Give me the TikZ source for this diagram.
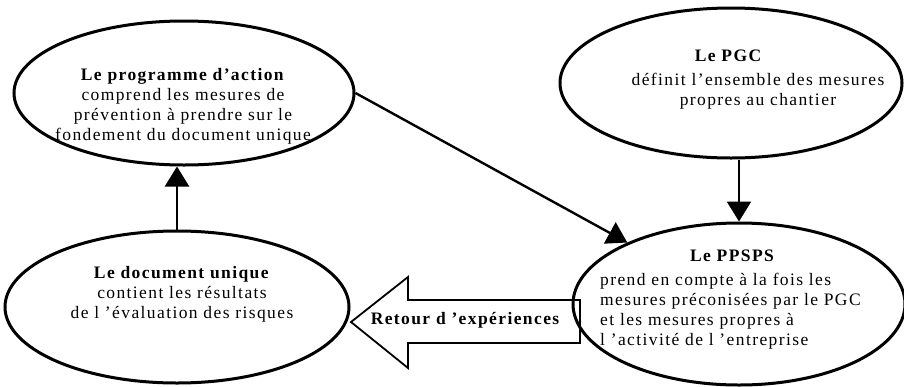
\documentclass[tikz,border=0pt]{standalone}
\usepackage{fontspec}
\setmainfont{Liberation Serif}[LetterSpace=8]
\usetikzlibrary{arrows.meta,shapes.geometric}
\tikzset{
  ell/.style={draw, line width=3pt, ellipse},
  txt/.style={font=\fontsize{17.5}{20}\selectfont, align=center, inner sep=0pt},
  btxt/.style={txt, font=\fontsize{17.5}{20}\selectfont\bfseries},
  conn/.style={line width=2.4pt, -{Triangle[length=20pt,width=24pt]}},
  bigarrow/.style={draw, line width=1.8pt, fill=white, line join=miter}
}
\begin{document}
\begin{tikzpicture}[x=1pt,y=-1pt]
\useasboundingbox (0,0) rectangle (904,386);
% big hollow arrow
\coordinate (tip) at (351,322);
\draw[bigarrow] (tip) -- (408,277) -- (408,300) -- (580,300) -- (580,343) -- (408,343) -- (408,368) -- cycle;
\node[btxt] (retour) at (465,320) {Retour d 'expériences};
% ellipses
\node[ell, fill=white, minimum width=340pt, minimum height=144pt] (prog) at (184,93) {};
\node[ell, fill=white, minimum width=342pt, minimum height=150pt] (pgc) at (731,83) {};
\node[ell, minimum width=344pt, minimum height=152pt] (doc) at (177,307) {};
\node[ell, minimum width=332pt, minimum height=162pt] (ppsps) at (739,304) {};
% texts
\node[txt] (progt) at (183,106) {\textbf{Le programme d'action}\\comprend les mesures de\\prévention à prendre sur le\\fondement du document unique};
\node[btxt] (pgct) at (728,56) {Le PGC};
\node[txt] (pgcb) at (758,91) {définit l'ensemble des mesures\\propres au chantier};
\node[txt] (doct) at (182,294) {\textbf{Le document unique}\\contient les résultats\\de l 'évaluation des risques};
\node[btxt] (ppst) at (732,256) {Le PPSPS};
\node[txt, align=left, anchor=west] (ppsb) at (600,311) {prend en compte à la fois les\\mesures préconisées par le PGC\\et les mesures propres à\\l 'activité de l 'entreprise};
% connectors
\draw[conn] (doc.north) -- (doc.north |- prog.south);
\draw[conn] (ppsps.north |- pgc.south) -- (ppsps.north);
\draw[conn] (prog.east) -- (ppsps);
\end{tikzpicture}
\end{document}
